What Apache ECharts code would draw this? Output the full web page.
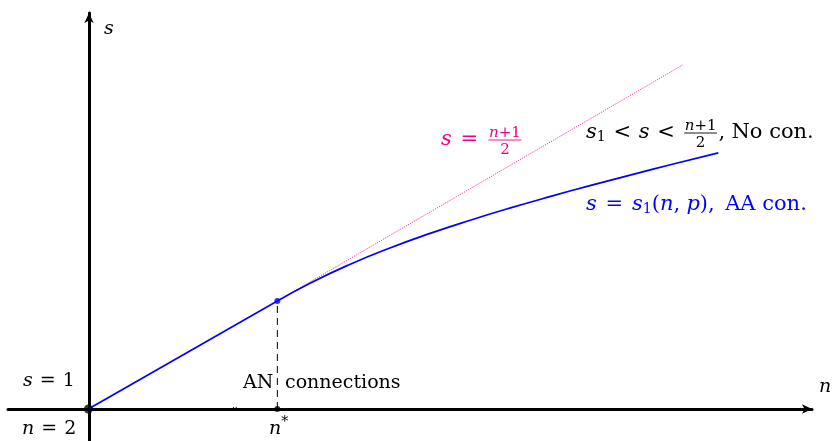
<!DOCTYPE html>
<html>
<head>
<meta charset="utf-8">
<script src="https://cdn.jsdelivr.net/npm/echarts@6/dist/echarts.min.js"></script>
<style>
  html, body { margin: 0; padding: 0; background: #fff; }
  #chart { width: 833px; height: 441px; }
</style>
</head>
<body>
<div id="chart"></div>
<script>
// Axis ranges (arbitrary units of n and s)
const nRange = [0, 20];
const sRange = [0, 13.375];

// Key points
const origin = [2, 1];          // (n = 2, s = 1)
const nStar = 6.7;              // n*
const sAtStar = 4.375;          // s at n*

// Straight branch from the origin up to n*
const lineN = [2, 6.7];
const lineS = [1, 4.375];

// Upper bound s = (n+1)/2 beyond n*
const boundN = [6.7, 16.78];
const boundS = [4.375, 11.75];

// Curve s = s1(n, p) beyond n*
const curveN = [6.7, 7.5, 8.5, 9.5, 10.5, 11.5, 12.5, 13.5, 14.5, 15.5, 16.5, 17.67];
const curveS = [4.375, 4.925, 5.516, 6.031, 6.488, 6.900, 7.284, 7.644, 7.988, 8.316, 8.641, 9.006];

const BLUE = '#0000ff';
const PINK = '#ec008c';
const BLACK = '#000000';
const FONT = '"DejaVu Serif"';
const FS = 19;      // lower labels
const FS_R = 21;    // right-hand labels
const FS_S = 15;    // fractions
const FS_SUB = 14;  // subscripts / superscripts

const zip = (a, b) => a.map((v, i) => [v, b[i]]);

// ---- text helpers ----
const mctx = document.createElement('canvas').getContext('2d');
const fontOf = (it, fs) => (it ? 'italic ' : '') + fs + 'px ' + FONT;
function measure(t, font) { mctx.font = font; return mctx.measureText(t).width; }
const MID = 0.30;   // baseline offset of a "middle"-aligned line, in em
const REL = 0.37;   // space around relation symbols, in em

function txt(t, x, base, color, fs, it) {
  return {
    type: 'text', x: x, y: base - MID * fs, silent: true,
    style: { text: t, font: fontOf(it, fs), fill: color, verticalAlign: 'middle', align: 'left' }
  };
}
function partWidth(p, fs) {
  if (p.gap !== undefined) return p.gap * fs;
  if (p.frac) return fracWidth(p);
  return measure(p.t, fontOf(p.it, p.fs || fs));
}
function rowWidth(parts, fs) { return parts.reduce((w, p) => w + partWidth(p, fs), 0); }
function fracWidth(p) { return Math.max(rowWidth(p.num, FS_S), rowWidth(p.den, FS_S)) + 4; }

// Lay out a math-style row from x0 on the given baseline
function row(x0, base, parts, color, fs) {
  const els = [];
  let x = x0;
  parts.forEach(p => {
    const w = partWidth(p, fs);
    if (p.frac) {
      const barY = base - 6;
      const nw = rowWidth(p.num, FS_S), dw = rowWidth(p.den, FS_S);
      els.push(...row(x + (w - nw) / 2, barY - 2.5, p.num, color, FS_S));
      els.push(...row(x + (w - dw) / 2, barY + 15, p.den, color, FS_S));
      els.push({ type: 'line', silent: true,
                 shape: { x1: x + 1.5, y1: barY, x2: x + w - 1.5, y2: barY },
                 style: { stroke: color, lineWidth: 0.9 } });
    } else if (p.t !== undefined) {
      els.push(txt(p.t, x, base + (p.dy || 0), color, p.fs || fs, p.it));
    }
    x += w;
  });
  return els;
}

const G = { gap: REL };
const nPlus1 = [{ t: 'n', it: true }, { t: '+' }, { t: '1' }];
const two = [{ t: '2' }];
const half = { frac: true, num: nPlus1, den: two };
const s1 = [{ t: 's', it: true }, { t: '1', fs: FS_SUB, dy: 3 }];

const labels = [].concat(
  // axis names
  row(104, 35, [{ t: 's', it: true }], BLACK, FS),
  row(819, 393, [{ t: 'n', it: true }], BLACK, FS),
  // origin and n* annotations
  row(23, 387, [{ t: 's', it: true }, G, { t: '=' }, G, { t: '1' }], BLACK, FS),
  row(22, 435, [{ t: 'n', it: true }, G, { t: '=' }, G, { t: '2' }], BLACK, FS),
  row(269, 435, [{ t: 'n', it: true }, { t: '*', fs: FS_SUB, dy: -8 }], BLACK, FS),
  row(243, 389, [{ t: 'AN' }], BLACK, FS),
  row(285, 389, [{ t: 'connections' }], BLACK, FS),
  row(232, 408, [{ t: '..' }], BLACK, 9),
  // s = (n+1)/2
  row(441, 146, [{ t: 's', it: true }, { gap: 0.42 }, { t: '=' }, { gap: 0.42 }, half], PINK, FS_R),
  // s1 < s < (n+1)/2, No con.
  row(586, 139, [].concat(s1, [G, { t: '<' }, G, { t: 's', it: true }, G, { t: '<' }, G, half,
                 { t: ',' }, { gap: 0.3 }, { t: 'No con.' }]), BLACK, FS_R),
  // s = s1(n, p), AA con.
  row(586, 211, [{ t: 's', it: true }, { gap: 0.42 }, { t: '=' }, { gap: 0.42 }].concat(s1, [
                 { t: '(' }, { t: 'n', it: true }, { t: ',' }, { gap: 0.3 }, { t: 'p', it: true },
                 { t: ')' }, { t: ',' }, { gap: 0.5 }, { t: 'AA con.' }]), BLUE, FS_R)
);

const chart = echarts.init(document.getElementById('chart'));
chart.setOption({
  animation: false,
  backgroundColor: '#ffffff',
  grid: { left: 8, right: 21, top: 13, bottom: 0 },
  xAxis: {
    type: 'value', min: nRange[0], max: nRange[1], position: 'bottom', offset: -32,
    axisLine: { onZero: false, symbol: ['none', 'arrow'], symbolSize: [7, 10],
                lineStyle: { color: BLACK, width: 3 } },
    axisTick: { show: false }, axisLabel: { show: false }, splitLine: { show: false }
  },
  yAxis: {
    type: 'value', min: sRange[0], max: sRange[1], position: 'left', offset: -81,
    axisLine: { onZero: false, symbol: ['none', 'arrow'], symbolSize: [7, 10],
                lineStyle: { color: BLACK, width: 3 } },
    axisTick: { show: false }, axisLabel: { show: false }, splitLine: { show: false }
  },
  series: [
    { // s = (n+1)/2 bound
      type: 'line', data: zip(boundN, boundS), showSymbol: false, silent: true,
      lineStyle: { color: PINK, width: 0.8, type: [1.2, 1.2] }
    },
    { // dashed drop line at n*
      type: 'line', data: [[nStar, origin[1]], [nStar, sAtStar]], showSymbol: false, silent: true,
      lineStyle: { color: BLACK, width: 1, type: [7, 5] }
    },
    { // straight branch
      type: 'line', data: zip(lineN, lineS), showSymbol: false, silent: true,
      lineStyle: { color: BLUE, width: 1.7 }
    },
    { // s1(n, p) branch
      type: 'line', data: zip(curveN, curveS), showSymbol: false, smooth: true, silent: true,
      lineStyle: { color: BLUE, width: 1.7 }
    },
    { // marked points
      type: 'scatter', silent: true, symbolSize: 6, z: 5,
      data: [
        { value: origin, symbolSize: 9, itemStyle: { color: BLACK } },
        { value: [nStar, origin[1]], itemStyle: { color: BLACK } },
        { value: [nStar, sAtStar], itemStyle: { color: BLUE } }
      ]
    }
  ],
  graphic: { elements: labels }
});
</script>
</body>
</html>
